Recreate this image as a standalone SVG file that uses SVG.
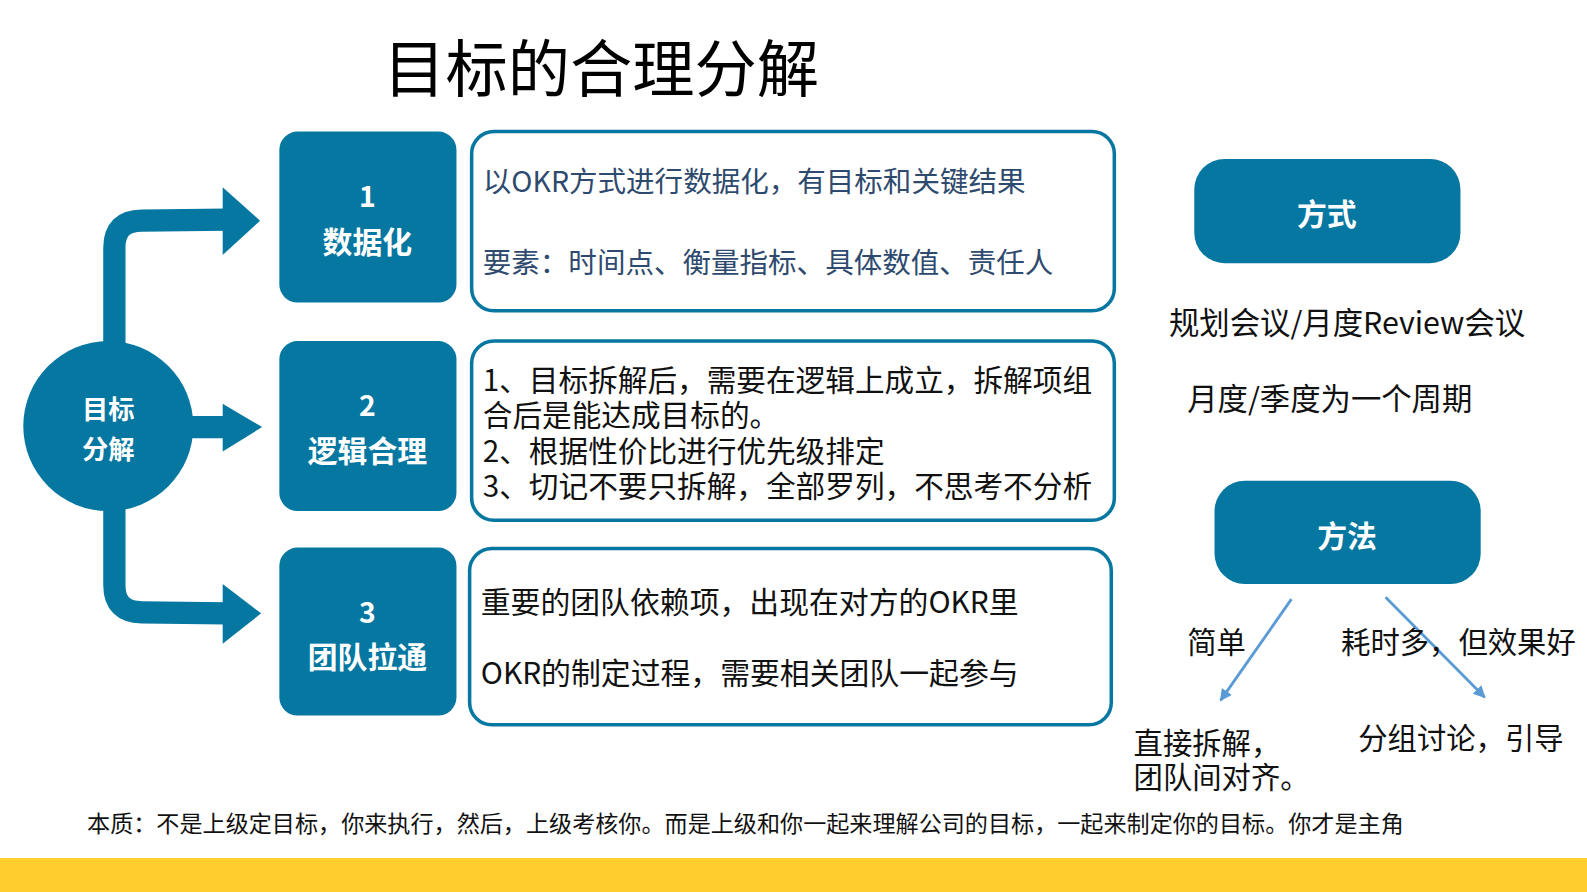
<svg xmlns="http://www.w3.org/2000/svg" width="1587" height="892" viewBox="0 0 1587 892">
<style>
text{font-family:"Noto Sans CJK SC","Noto Sans",sans-serif;}
.dark{fill:#0677A1;}
.outline{fill:#FFFFFF;stroke:#0677A1;stroke-width:3.5;}
.wb{fill:#FFFFFF;font-weight:bold;text-anchor:middle;}
.body{fill:#111111;}
.blue{fill:#2E4A6E;}
.band{fill:none;stroke:#0677A1;stroke-width:22;}
.head{fill:#0677A1;}
.thin{stroke:#5B9BD5;stroke-width:2.8;fill:none;marker-end:url(#ah);}
</style>
<defs>
<marker id="ah" viewBox="0 0 10 10" refX="9" refY="5" markerWidth="14" markerHeight="12" orient="auto" markerUnits="userSpaceOnUse">
<path d="M0,0 L10,5 L0,10 z" fill="#5B9BD5"/>
</marker>
</defs>
<rect x="0" y="0" width="1587" height="892" fill="#FFFFFF"/>
<rect x="0" y="858" width="1587" height="34" fill="#FFCD2E"/>

<g transform="scale(1.0121)">
<g id="title"><text x="594" y="91" font-size="61.5" text-anchor="middle" fill="#000">目标的合理分解</text></g>

<g id="connectors">
<path class="band" d="M113,345 L113,245 Q113,218 140,218 L224,217"/>
<polygon class="head" points="220,185 257,218 220,252"/>
<path class="band" d="M185,422 L224,422"/>
<polygon class="head" points="220,399 259,422 220,446"/>
<path class="band" d="M113,498 L113,578 Q113,605 140,605 L224,606"/>
<polygon class="head" points="220,577 258,606 220,636"/>
<line class="thin" x1="1276" y1="592" x2="1206" y2="692"/>
<line class="thin" x1="1369" y1="590" x2="1467" y2="689"/>
</g>

<g id="center">
<circle class="dark" cx="107" cy="421" r="84"/>
<text class="wb" font-size="26"><tspan x="107" y="414">目标</tspan><tspan x="107" y="454">分解</tspan></text>
</g>

<g id="node1">
<rect class="dark" x="276" y="130" width="175" height="169" rx="18"/>
<text class="wb" x="363" y="205" font-size="28">1</text>
<text class="wb" x="363" y="250" font-size="29.5">数据化</text>
</g>
<g id="detail1">
<rect class="outline" x="466" y="130" width="635" height="177" rx="22"/>
<text class="blue" x="477" y="190" font-size="28.2">以OKR方式进行数据化，有目标和关键结果</text>
<text class="blue" x="477" y="270" font-size="28.2">要素：时间点、衡量指标、具体数值、责任人</text>
</g>

<g id="node2">
<rect class="dark" x="276" y="337" width="175" height="168" rx="18"/>
<text class="wb" x="363" y="411" font-size="28">2</text>
<text class="wb" x="363" y="456" font-size="29.5">逻辑合理</text>
</g>
<g id="detail2">
<rect class="outline" x="466" y="337" width="635" height="177" rx="22"/>
<text class="body" font-size="29.3"><tspan x="477" y="386">1、目标拆解后，需要在逻辑上成立，拆解项组</tspan><tspan x="477" y="421">合后是能达成目标的。</tspan><tspan x="477" y="456">2、根据性价比进行优先级排定</tspan><tspan x="477" y="491">3、切记不要只拆解，全部罗列，不思考不分析</tspan></text>
</g>

<g id="node3">
<rect class="dark" x="276" y="541" width="175" height="166" rx="18"/>
<text class="wb" x="363" y="616" font-size="28">3</text>
<text class="wb" x="363" y="660" font-size="29.5">团队拉通</text>
</g>
<g id="detail3">
<rect class="outline" x="464" y="542" width="634" height="174" rx="22"/>
<text class="body" x="475" y="606" font-size="29.5">重要的团队依赖项，出现在对方的OKR里</text>
<text class="body" x="475" y="676" font-size="29.5">OKR的制定过程，需要相关团队一起参与</text>
</g>

<g id="fangshi">
<rect class="dark" x="1180" y="157" width="263" height="103" rx="30"/>
<text class="wb" x="1311" y="222" font-size="29.5">方式</text>
</g>
<g id="fangshi-notes">
<text class="body" x="1155" y="330" font-size="30">规划会议/月度Review会议</text>
<text class="body" x="1173" y="405" font-size="30">月度/季度为一个周期</text>
</g>

<g id="fangfa">
<rect class="dark" x="1200" y="475" width="263" height="102" rx="30"/>
<text class="wb" x="1331" y="540" font-size="29.5">方法</text>
</g>
<g id="fangfa-notes">
<text class="body" x="1173" y="645" font-size="29">简单</text>
<text class="body" x="1325" y="645" font-size="29">耗时多，但效果好</text>
<text class="body" font-size="29"><tspan x="1120" y="745">直接拆解，</tspan><tspan x="1120" y="779">团队间对齐。</tspan></text>
<text class="body" x="1342" y="740" font-size="29">分组讨论，引导</text>
</g>

<g id="footer">
<text class="body" x="86" y="822" font-size="22.5" textLength="1301" lengthAdjust="spacingAndGlyphs">本质：不是上级定目标，你来执行，然后，上级考核你。而是上级和你一起来理解公司的目标，一起来制定你的目标。你才是主角</text>
</g>
</g>
</svg>
